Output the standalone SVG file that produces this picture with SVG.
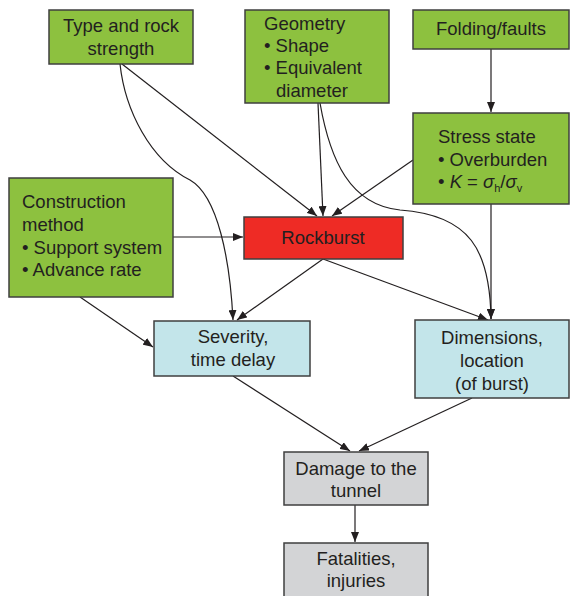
<svg xmlns="http://www.w3.org/2000/svg" width="570" height="596" viewBox="0 0 570 596">
<style>
.box{stroke:#3f3f3f;stroke-width:1.5}
.g{fill:#8dc13f}.r{fill:#ee2b25}.b{fill:#c3e5ea}.y{fill:#d3d4d6}
text{font-family:"Liberation Sans",Arial,sans-serif;font-size:18.5px;fill:#231f20}
.c{text-anchor:middle}
.e{fill:none;stroke:#231f20;stroke-width:1.2}
.sub{font-size:11px}
</style>
<defs>
<marker id="a" viewBox="0 0 10 8" refX="10" refY="4" markerWidth="10" markerHeight="8" markerUnits="userSpaceOnUse" orient="auto">
<path d="M0,0L10,4L0,8z" fill="#231f20"/>
</marker>
</defs>
<g id="connectors" class="e">
<path d="M120,64 C125,110 150,160 190,180 C218,196 230,260 233,320" marker-end="url(#a)"/>
<path d="M122,64 L317,216" marker-end="url(#a)"/>
<path d="M318,103 L323,216" marker-end="url(#a)"/>
<path d="M413,160 L332,216" marker-end="url(#a)"/>
<path d="M320,103 C330,160 350,205 400,210 C470,215 490,250 491,319" marker-end="url(#a)"/>
<path d="M491,49 L491,112" marker-end="url(#a)"/>
<path d="M491,204 L491,319" marker-end="url(#a)"/>
<path d="M323,259 L237,320" marker-end="url(#a)"/>
<path d="M323,259 L488,320" marker-end="url(#a)"/>
<path d="M173,237 L243,237" marker-end="url(#a)"/>
<path d="M80,297 L153,347" marker-end="url(#a)"/>
<path d="M233,376 L350,451" marker-end="url(#a)"/>
<path d="M472,398 L359,451" marker-end="url(#a)"/>
<path d="M355,505 L355,542" marker-end="url(#a)"/>
</g>
<g id="type">
<rect class="box g" x="49" y="10" width="144" height="54"/>
<text class="c" x="121" y="32">Type and rock</text>
<text class="c" x="121" y="55">strength</text>
</g>
<g id="geometry">
<rect class="box g" x="245" y="10" width="144" height="93"/>
<text x="264" y="30">Geometry</text>
<text x="264" y="52">• Shape</text>
<text x="264" y="74">• Equivalent</text>
<text x="276" y="97">diameter</text>
</g>
<g id="folding">
<rect class="box g" x="413" y="10" width="156" height="39"/>
<text class="c" x="491" y="35">Folding/faults</text>
</g>
<g id="stress">
<rect class="box g" x="413" y="113" width="156" height="91"/>
<text x="438" y="143">Stress state</text>
<text x="438" y="166">• Overburden</text>
<text x="438" y="188">• <tspan font-style="italic">K</tspan> = <tspan font-style="italic">σ</tspan><tspan class="sub" dy="4">h</tspan><tspan dy="-4">/</tspan><tspan font-style="italic">σ</tspan><tspan class="sub" dy="4">v</tspan></text>
</g>
<g id="construction">
<rect class="box g" x="9" y="178" width="164" height="119"/>
<text x="22" y="208">Construction</text>
<text x="22" y="231">method</text>
<text x="22" y="254">• Support system</text>
<text x="22" y="276">• Advance rate</text>
</g>
<g id="rockburst">
<rect class="box r" x="244" y="217" width="159" height="42"/>
<text class="c" x="323" y="244">Rockburst</text>
</g>
<g id="severity">
<rect class="box b" x="154" y="321" width="156" height="55"/>
<text class="c" x="233" y="343">Severity,</text>
<text class="c" x="233" y="366">time delay</text>
</g>
<g id="dimensions">
<rect class="box b" x="415" y="320" width="154" height="78"/>
<text class="c" x="492" y="344">Dimensions,</text>
<text class="c" x="492" y="367">location</text>
<text class="c" x="492" y="390">(of burst)</text>
</g>
<g id="damage">
<rect class="box y" x="284" y="452" width="144" height="53"/>
<text class="c" x="356" y="475">Damage to the</text>
<text class="c" x="356" y="497">tunnel</text>
</g>
<g id="fatalities">
<rect class="box y" x="284" y="543" width="144" height="60"/>
<text class="c" x="356" y="565">Fatalities,</text>
<text class="c" x="356" y="587">injuries</text>
</g>
</svg>
